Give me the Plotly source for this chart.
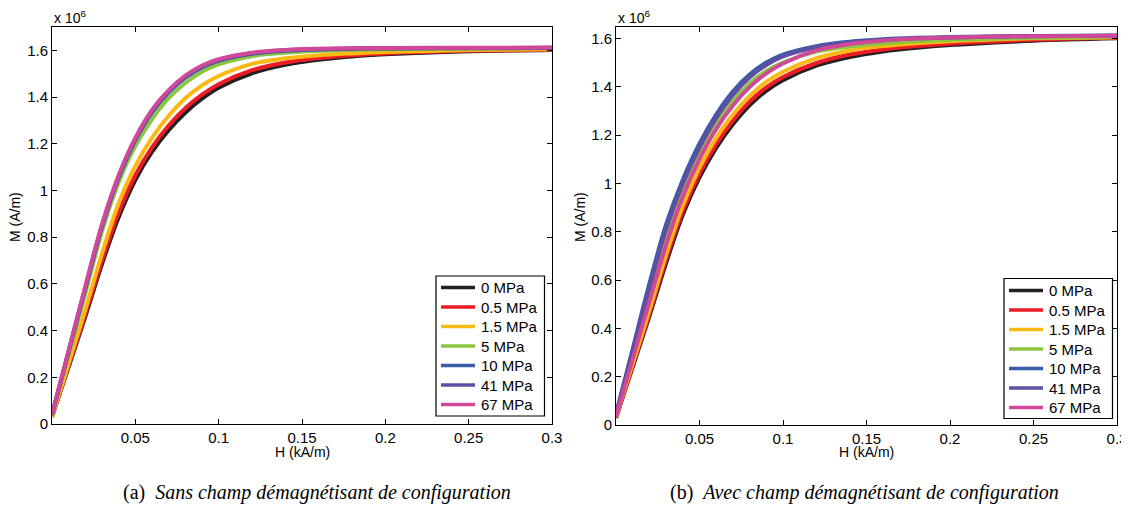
import plotly.graph_objects as go

# ---- data ----
H_kAm = [0, 0.005, 0.01, 0.02, 0.03, 0.04, 0.05, 0.06, 0.07, 0.08, 0.09, 0.10,
         0.12, 0.14, 0.16, 0.18, 0.20, 0.25, 0.30]

stress_labels = ["0 MPa", "0.5 MPa", "1.5 MPa", "5 MPa", "10 MPa", "41 MPa", "67 MPa"]

# (a) without configuration demagnetising field, M in 1e6 A/m
M_a_0 = [0.03, 0.138, 0.245, 0.46, 0.685, 0.885, 1.045, 1.165, 1.258, 1.333, 1.393, 1.44,
         1.502, 1.538, 1.560, 1.574, 1.583, 1.596, 1.602]
M_a_05 = [0.03, 0.14, 0.25, 0.47, 0.70, 0.905, 1.065, 1.185, 1.278, 1.352, 1.41, 1.455,
          1.515, 1.548, 1.567, 1.579, 1.587, 1.598, 1.603]
M_a_15 = [0.03, 0.145, 0.26, 0.49, 0.73, 0.945, 1.105, 1.225, 1.32, 1.395, 1.45, 1.49,
          1.542, 1.566, 1.579, 1.587, 1.593, 1.601, 1.605]
M_a_5 = [0.035, 0.166, 0.298, 0.56, 0.825, 1.035, 1.19, 1.305, 1.395, 1.46, 1.508, 1.54,
         1.575, 1.590, 1.598, 1.602, 1.605, 1.608, 1.610]
M_a_10 = [0.04, 0.175, 0.31, 0.58, 0.845, 1.055, 1.215, 1.335, 1.42, 1.483, 1.527, 1.555,
          1.585, 1.598, 1.604, 1.607, 1.608, 1.609, 1.610]
M_a_41 = [0.04, 0.176, 0.313, 0.585, 0.85, 1.06, 1.22, 1.34, 1.425, 1.488, 1.531, 1.559,
          1.588, 1.600, 1.605, 1.608, 1.609, 1.610, 1.611]
M_a_67 = [0.04, 0.178, 0.315, 0.59, 0.855, 1.065, 1.225, 1.345, 1.43, 1.492, 1.535, 1.562,
          1.590, 1.602, 1.607, 1.609, 1.610, 1.611, 1.612]

# (b) with configuration demagnetising field
M_b_0 = [0.03, 0.135, 0.24, 0.45, 0.67, 0.87, 1.025, 1.147, 1.245, 1.323, 1.383, 1.427,
         1.487, 1.523, 1.546, 1.561, 1.572, 1.590, 1.600]
M_b_05 = [0.03, 0.138, 0.245, 0.46, 0.685, 0.885, 1.04, 1.162, 1.26, 1.338, 1.397, 1.44,
          1.498, 1.533, 1.554, 1.568, 1.578, 1.594, 1.602]
M_b_15 = [0.035, 0.145, 0.255, 0.475, 0.705, 0.908, 1.065, 1.188, 1.285, 1.362, 1.42, 1.462,
          1.518, 1.550, 1.568, 1.580, 1.588, 1.600, 1.605]
M_b_5 = [0.04, 0.163, 0.285, 0.53, 0.772, 0.968, 1.12, 1.243, 1.34, 1.413, 1.465, 1.50,
         1.545, 1.566, 1.579, 1.588, 1.594, 1.602, 1.606]
M_b_10 = [0.045, 0.18, 0.315, 0.585, 0.83, 1.015, 1.165, 1.285, 1.38, 1.45, 1.50, 1.533,
          1.568, 1.586, 1.596, 1.602, 1.606, 1.610, 1.612]
M_b_41 = [0.045, 0.175, 0.305, 0.565, 0.81, 0.998, 1.148, 1.27, 1.366, 1.438, 1.49, 1.525,
          1.563, 1.582, 1.593, 1.600, 1.604, 1.609, 1.611]
M_b_67 = [0.035, 0.154, 0.273, 0.51, 0.745, 0.945, 1.10, 1.225, 1.322, 1.398, 1.455, 1.496,
          1.550, 1.577, 1.591, 1.599, 1.604, 1.609, 1.611]

colors = ["#231f20", "#ed1c24", "#fdb913", "#8cc63f", "#3a5ba8", "#5e4fa2", "#d1479a"]

x_ticks = [0.05, 0.1, 0.15, 0.2, 0.25, 0.3]
x_tick_text = ["0.05", "0.1", "0.15", "0.2", "0.25", "0.3"]
y_ticks = [0, 0.2, 0.4, 0.6, 0.8, 1.0, 1.2, 1.4, 1.6]
y_tick_text = ["0", "0.2", "0.4", "0.6", "0.8", "1", "1.2", "1.4", "1.6"]

series_a = [M_a_0, M_a_05, M_a_15, M_a_5, M_a_10, M_a_41, M_a_67]
series_b = [M_b_0, M_b_05, M_b_15, M_b_5, M_b_10, M_b_41, M_b_67]

# ---- figure ----
OFF = 8  # page body margin of the html page
W, Hpx = 1129 - OFF, 509 - OFF
FONT = "Liberation Sans, Arial, Helvetica, sans-serif"
SERIF = "Liberation Serif, Times New Roman, serif"


def px_x(p):
    return (p - OFF) / W


def px_y(p):
    return 1 - (p - OFF) / Hpx


fig = go.Figure()
for name, m, c in zip(stress_labels, series_a, colors):
    fig.add_trace(go.Scatter(x=H_kAm, y=m, mode="lines", name=name, showlegend=False,
                             line=dict(color=c, width=4, shape="spline", smoothing=1.0),
                             xaxis="x", yaxis="y"))
for name, m, c in zip(stress_labels, series_b, colors):
    fig.add_trace(go.Scatter(x=H_kAm, y=m, mode="lines", name=name, showlegend=False,
                             line=dict(color=c, width=4, shape="spline", smoothing=1.0),
                             xaxis="x2", yaxis="y2"))

axis_common = dict(showline=True, linecolor="black", linewidth=1, mirror="ticks",
                   ticks="inside", ticklen=5, tickcolor="black", tickwidth=1,
                   showgrid=False, zeroline=False, automargin=False,
                   tickfont=dict(family=FONT, size=15, color="black"))

fig.update_layout(
    width=W, height=Hpx,
    margin=dict(l=0, r=0, t=0, b=0, autoexpand=False),
    paper_bgcolor="white", plot_bgcolor="white",
    showlegend=False,
    xaxis=dict(domain=[px_x(52), px_x(552)], range=[0, 0.3], anchor="y",
               tickvals=x_ticks, ticktext=x_tick_text, **axis_common),
    yaxis=dict(domain=[px_y(424), px_y(27)], range=[0, 1.7], anchor="x",
               tickvals=y_ticks, ticktext=y_tick_text, **axis_common),
    xaxis2=dict(domain=[px_x(616), px_x(1117)], range=[0, 0.3], anchor="y2",
                tickvals=x_ticks, ticktext=x_tick_text, **axis_common),
    yaxis2=dict(domain=[px_y(425), px_y(27)], range=[0, 1.647], anchor="x2",
                tickvals=y_ticks, ticktext=y_tick_text, **axis_common),
)

ann = []
shapes = []

# legends (box, line samples, labels)
legend_boxes = [(436, 544.5, 276, 416, 287.5), (1004, 1112.5, 278.5, 418.5, 290.5)]
LEG_STEP = 19.5
for (x0, x1, y0, y1, first) in legend_boxes:
    shapes.append(dict(type="rect", xref="paper", yref="paper",
                       x0=px_x(x0), x1=px_x(x1), y0=px_y(y1), y1=px_y(y0),
                       line=dict(color="black", width=1.2), fillcolor="white", layer="above"))
    for i, (lab, c) in enumerate(zip(stress_labels, colors)):
        yy = first + i * LEG_STEP
        shapes.append(dict(type="line", xref="paper", yref="paper",
                           x0=px_x(x0 + 5), x1=px_x(x0 + 39), y0=px_y(yy), y1=px_y(yy),
                           line=dict(color=c, width=3.5), layer="above"))
        ann.append(dict(text=lab, x=px_x(x0 + 43), y=px_y(yy), xref="paper", yref="paper",
                        xanchor="left", yanchor="middle", showarrow=False,
                        font=dict(family=FONT, size=15, color="black")))

# axis titles
for cx in (302, 866):
    ann.append(dict(text="H (kA/m)", x=px_x(cx), y=px_y(452), xref="paper", yref="paper",
                    xanchor="center", yanchor="middle", showarrow=False,
                    font=dict(family=FONT, size=14, color="black")))
for cx in (15, 580):
    ann.append(dict(text="M (A/m)", x=px_x(cx), y=px_y(217), xref="paper", yref="paper",
                    xanchor="center", yanchor="middle", showarrow=False, textangle=-90,
                    font=dict(family=FONT, size=14, color="black")))
# exponent labels
for lx in (52, 616):
    ann.append(dict(text="x 10<sup>6</sup>", x=px_x(lx), y=px_y(28), xref="paper", yref="paper",
                    xanchor="left", yanchor="bottom", showarrow=False,
                    font=dict(family=FONT, size=14, color="black")))
# captions
ann.append(dict(text="(a)\u00a0\u00a0<i>Sans champ démagnétisant de configuration</i>",
                x=px_x(121), y=px_y(492), xref="paper", yref="paper",
                xanchor="left", yanchor="middle", showarrow=False,
                font=dict(family=SERIF, size=20, color="black")))
ann.append(dict(text="(b)\u00a0\u00a0<i>Avec champ démagnétisant de configuration</i>",
                x=px_x(668), y=px_y(492), xref="paper", yref="paper",
                xanchor="left", yanchor="middle", showarrow=False,
                font=dict(family=SERIF, size=20, color="black")))

fig.update_layout(annotations=ann, shapes=shapes)

fig.write_html("out.html")
